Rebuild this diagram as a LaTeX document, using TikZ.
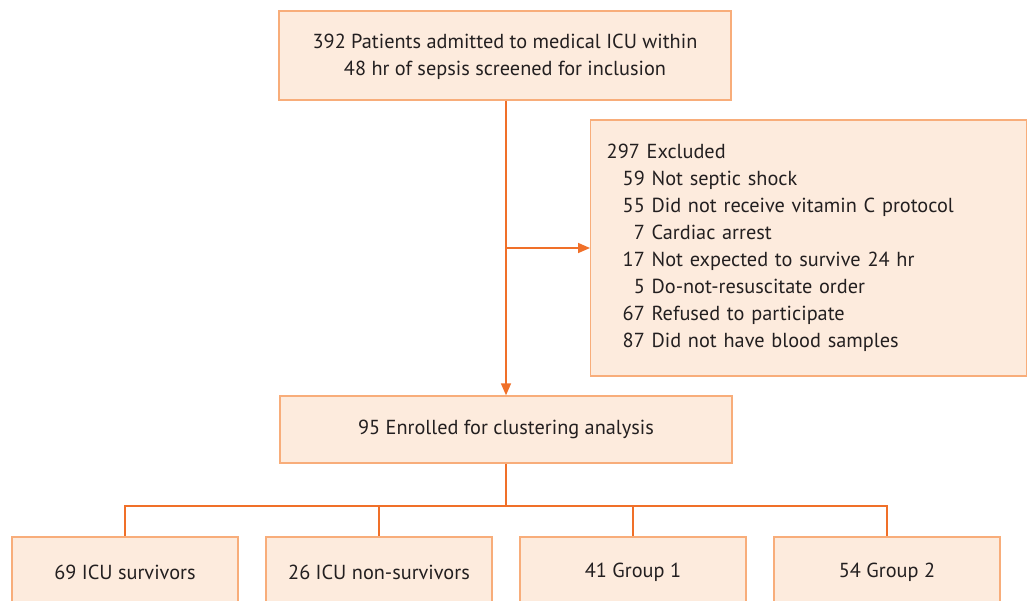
\documentclass[tikz,border=0pt]{standalone}
\usepackage{fontspec}
\setmainfont{PT Sans}
\usetikzlibrary{positioning,arrows.meta}
\definecolor{fclaranja}{HTML}{F07029}
\definecolor{fcborda}{HTML}{F8AD7A}
\definecolor{fcfundo}{HTML}{FDEBDD}
\definecolor{fctexto}{HTML}{231F20}
\tikzset{
  fcbox/.style={draw=fcborda, fill=fcfundo, line width=1.4pt, align=center,
                text=fctexto, font=\fontsize{20.3}{27}\selectfont, inner sep=0pt},
  fcseta/.style={-{Triangle[length=12pt,width=10pt]}, line width=1.6pt, draw=fclaranja},
  fclinha/.style={line width=1.6pt, draw=fclaranja},
}
\begin{document}
\begin{tikzpicture}[x=1pt,y=-1pt]
        \useasboundingbox (0,0) rectangle (1027,600);
        % ---------------- caixas ----------------
        \node[fcbox, minimum width=452pt, minimum height=89pt, text depth=2pt] (screened) at (505,55.5)
          {392 Patients admitted to medical ICU within\\ 48 hr of sepsis screened for inclusion};
        \node[fcbox, anchor=west, minimum height=256pt, text width=404pt, inner xsep=16pt, align=left] (excluded) at (590,248)
          {\raisebox{-3pt}{\begin{tabular}{@{\hspace{16pt}}r@{ }l@{}}
             \multicolumn{2}{@{}l@{}}{297 Excluded}\\
             59 & Not septic shock\\
             55 & Did not receive vitamin C protocol\\
             7 & Cardiac arrest\\
             17 & Not expected to survive 24 hr\\
             5 & Do-not-resuscitate order\\
             67 & Refused to participate\\
             87 & Did not have blood samples
           \end{tabular}}};
        \node[fcbox, minimum width=452pt, minimum height=67pt] (enrolled) at (506,429.5) {95 Enrolled for clustering analysis};
        \node[fcbox, minimum width=226pt, minimum height=70pt] (survivors) at (125,572) {69 ICU survivors};
        \node[fcbox, minimum width=226pt, minimum height=70pt] (nonsurvivors) at (379,572) {26 ICU non-survivors};
        \node[fcbox, minimum width=226pt, minimum height=70pt] (group1) at (633,572) {41 Group 1};
        \node[fcbox, minimum width=226pt, minimum height=70pt] (group2) at (887,572) {54 Group 2};
        % ---------------- setas ----------------
        \coordinate (split) at (506,248);
        \coordinate (fork) at (506,506);
        \draw[fcseta] (screened.south -| split) -- (enrolled.north -| split);
        \draw[fcseta] (split) -- (excluded.west);
        \draw[fclinha] (enrolled.south -| fork) -- (fork);
        \draw[fclinha] (fork) -| (survivors.north);
        \draw[fclinha] (fork) -| (nonsurvivors.north);
        \draw[fclinha] (fork) -| (group1.north);
        \draw[fclinha] (fork) -| (group2.north);
\end{tikzpicture}
\end{document}
